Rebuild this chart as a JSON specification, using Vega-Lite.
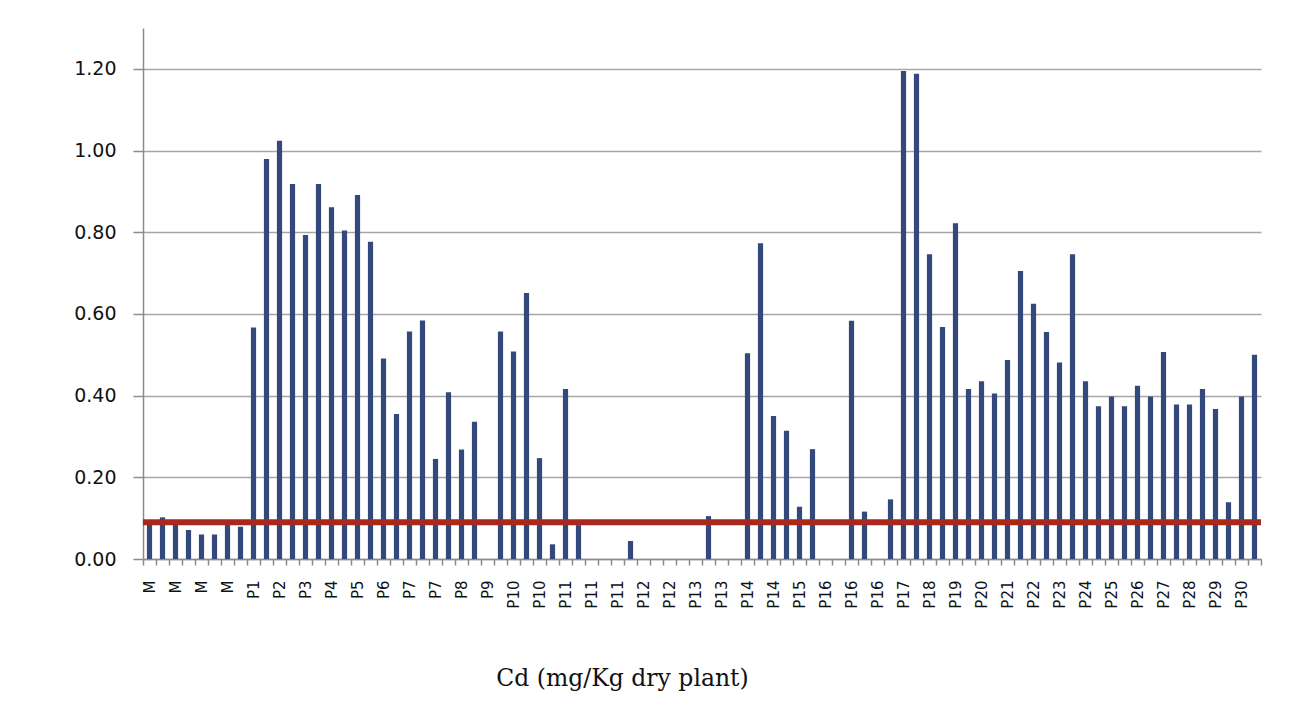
{
  "$schema": "https://vega.github.io/schema/vega-lite/v6.json",
  "width": 1118,
  "height": 531,
  "autosize": {"type": "none"},
  "padding": {"left": 143, "top": 28, "right": 39, "bottom": 163},
  "background": "white",
  "config": {"view": {"stroke": null}},
  "layer": [
    {
      "data": {"values": [
        {"sample": "M#1", "cd": 0.09},
        {"sample": "M#2", "cd": 0.102},
        {"sample": "M#3", "cd": 0.088},
        {"sample": "M#4", "cd": 0.071},
        {"sample": "M#5", "cd": 0.06},
        {"sample": "M#6", "cd": 0.06},
        {"sample": "M#7", "cd": 0.088},
        {"sample": "M#8", "cd": 0.079},
        {"sample": "P1#9", "cd": 0.567},
        {"sample": "P1#10", "cd": 0.979},
        {"sample": "P2#11", "cd": 1.024},
        {"sample": "P2#12", "cd": 0.918},
        {"sample": "P3#13", "cd": 0.793},
        {"sample": "P3#14", "cd": 0.918},
        {"sample": "P4#15", "cd": 0.861},
        {"sample": "P4#16", "cd": 0.804},
        {"sample": "P5#17", "cd": 0.891},
        {"sample": "P5#18", "cd": 0.777},
        {"sample": "P6#19", "cd": 0.491},
        {"sample": "P6#20", "cd": 0.355},
        {"sample": "P7#21", "cd": 0.557},
        {"sample": "P7#22", "cd": 0.584},
        {"sample": "P7#23", "cd": 0.245},
        {"sample": "P7#24", "cd": 0.408},
        {"sample": "P8#25", "cd": 0.268},
        {"sample": "P8#26", "cd": 0.336},
        {"sample": "P9#27", "cd": 0},
        {"sample": "P9#28", "cd": 0.557},
        {"sample": "P10#29", "cd": 0.508},
        {"sample": "P10#30", "cd": 0.651},
        {"sample": "P10#31", "cd": 0.247},
        {"sample": "P10#32", "cd": 0.036},
        {"sample": "P11#33", "cd": 0.416},
        {"sample": "P11#34", "cd": 0.083},
        {"sample": "P11#35", "cd": 0},
        {"sample": "P11#36", "cd": 0},
        {"sample": "P11#37", "cd": 0},
        {"sample": "P11#38", "cd": 0.044},
        {"sample": "P12#39", "cd": 0},
        {"sample": "P12#40", "cd": 0},
        {"sample": "P12#41", "cd": 0},
        {"sample": "P12#42", "cd": 0},
        {"sample": "P13#43", "cd": 0},
        {"sample": "P13#44", "cd": 0.105},
        {"sample": "P13#45", "cd": 0},
        {"sample": "P13#46", "cd": 0},
        {"sample": "P14#47", "cd": 0.504},
        {"sample": "P14#48", "cd": 0.773},
        {"sample": "P14#49", "cd": 0.35},
        {"sample": "P14#50", "cd": 0.314},
        {"sample": "P15#51", "cd": 0.128},
        {"sample": "P15#52", "cd": 0.269},
        {"sample": "P16#53", "cd": 0},
        {"sample": "P16#54", "cd": 0},
        {"sample": "P16#55", "cd": 0.583},
        {"sample": "P16#56", "cd": 0.116},
        {"sample": "P16#57", "cd": 0},
        {"sample": "P16#58", "cd": 0.146},
        {"sample": "P17#59", "cd": 1.195},
        {"sample": "P17#60", "cd": 1.188},
        {"sample": "P18#61", "cd": 0.746},
        {"sample": "P18#62", "cd": 0.568},
        {"sample": "P19#63", "cd": 0.822},
        {"sample": "P19#64", "cd": 0.416},
        {"sample": "P20#65", "cd": 0.435},
        {"sample": "P20#66", "cd": 0.405},
        {"sample": "P21#67", "cd": 0.487},
        {"sample": "P21#68", "cd": 0.705},
        {"sample": "P22#69", "cd": 0.625},
        {"sample": "P22#70", "cd": 0.556},
        {"sample": "P23#71", "cd": 0.481},
        {"sample": "P23#72", "cd": 0.746},
        {"sample": "P24#73", "cd": 0.435},
        {"sample": "P24#74", "cd": 0.374},
        {"sample": "P25#75", "cd": 0.398},
        {"sample": "P25#76", "cd": 0.374},
        {"sample": "P26#77", "cd": 0.424},
        {"sample": "P26#78", "cd": 0.398},
        {"sample": "P27#79", "cd": 0.507},
        {"sample": "P27#80", "cd": 0.378},
        {"sample": "P28#81", "cd": 0.378},
        {"sample": "P28#82", "cd": 0.416},
        {"sample": "P29#83", "cd": 0.367},
        {"sample": "P29#84", "cd": 0.139},
        {"sample": "P30#85", "cd": 0.398},
        {"sample": "P30#86", "cd": 0.5}
      ]},
      "mark": {"type": "bar", "color": "#34497b", "width": {"band": 0.4}},
      "encoding": {
        "x": {
          "field": "sample",
          "type": "nominal",
          "sort": null,
          "scale": {"paddingInner": 0, "paddingOuter": 0},
          "axis": {
            "labelExpr": "toNumber(split(datum.value, '#')[1]) % 2 == 1 ? split(datum.value, '#')[0] : ''",
            "labelAngle": -90,
            "labelFont": "DejaVu Sans",
            "labelFontSize": 15,
            "labelColor": "#111111",
            "labelPadding": 15,
            "labelOverlap": false,
            "tickBand": "extent",
            "tickSize": 6,
            "tickColor": "#8c8c8c",
            "tickWidth": 1.5,
            "domainColor": "#8c8c8c",
            "domainWidth": 1.5,
            "title": "Cd (mg/Kg dry plant)",
            "titleFont": "DejaVu Serif",
            "titleFontSize": 23.5,
            "titleFontWeight": "normal",
            "titleColor": "#111111",
            "titleX": 479,
            "titlePadding": 58
          }
        },
        "y": {
          "field": "cd",
          "type": "quantitative",
          "scale": {"domain": [0, 1.3], "nice": false},
          "axis": {
            "values": [0, 0.2, 0.4, 0.6, 0.8, 1.0, 1.2],
            "format": ".2f",
            "title": null,
            "grid": true,
            "gridColor": "#a6a6a6",
            "gridWidth": 1.5,
            "domainColor": "#8c8c8c",
            "domainWidth": 1.5,
            "tickColor": "#8c8c8c",
            "tickWidth": 1.5,
            "tickSize": 10,
            "labelFont": "DejaVu Sans",
            "labelFontSize": 19,
            "labelColor": "#111111",
            "labelPadding": 17
          }
        }
      }
    },
    {
      "data": {"values": [{"limit": 0.09}]},
      "mark": {"type": "rule", "color": "#a8281e", "strokeWidth": 6},
      "encoding": {
        "y": {"field": "limit", "type": "quantitative"}
      }
    }
  ]
}
